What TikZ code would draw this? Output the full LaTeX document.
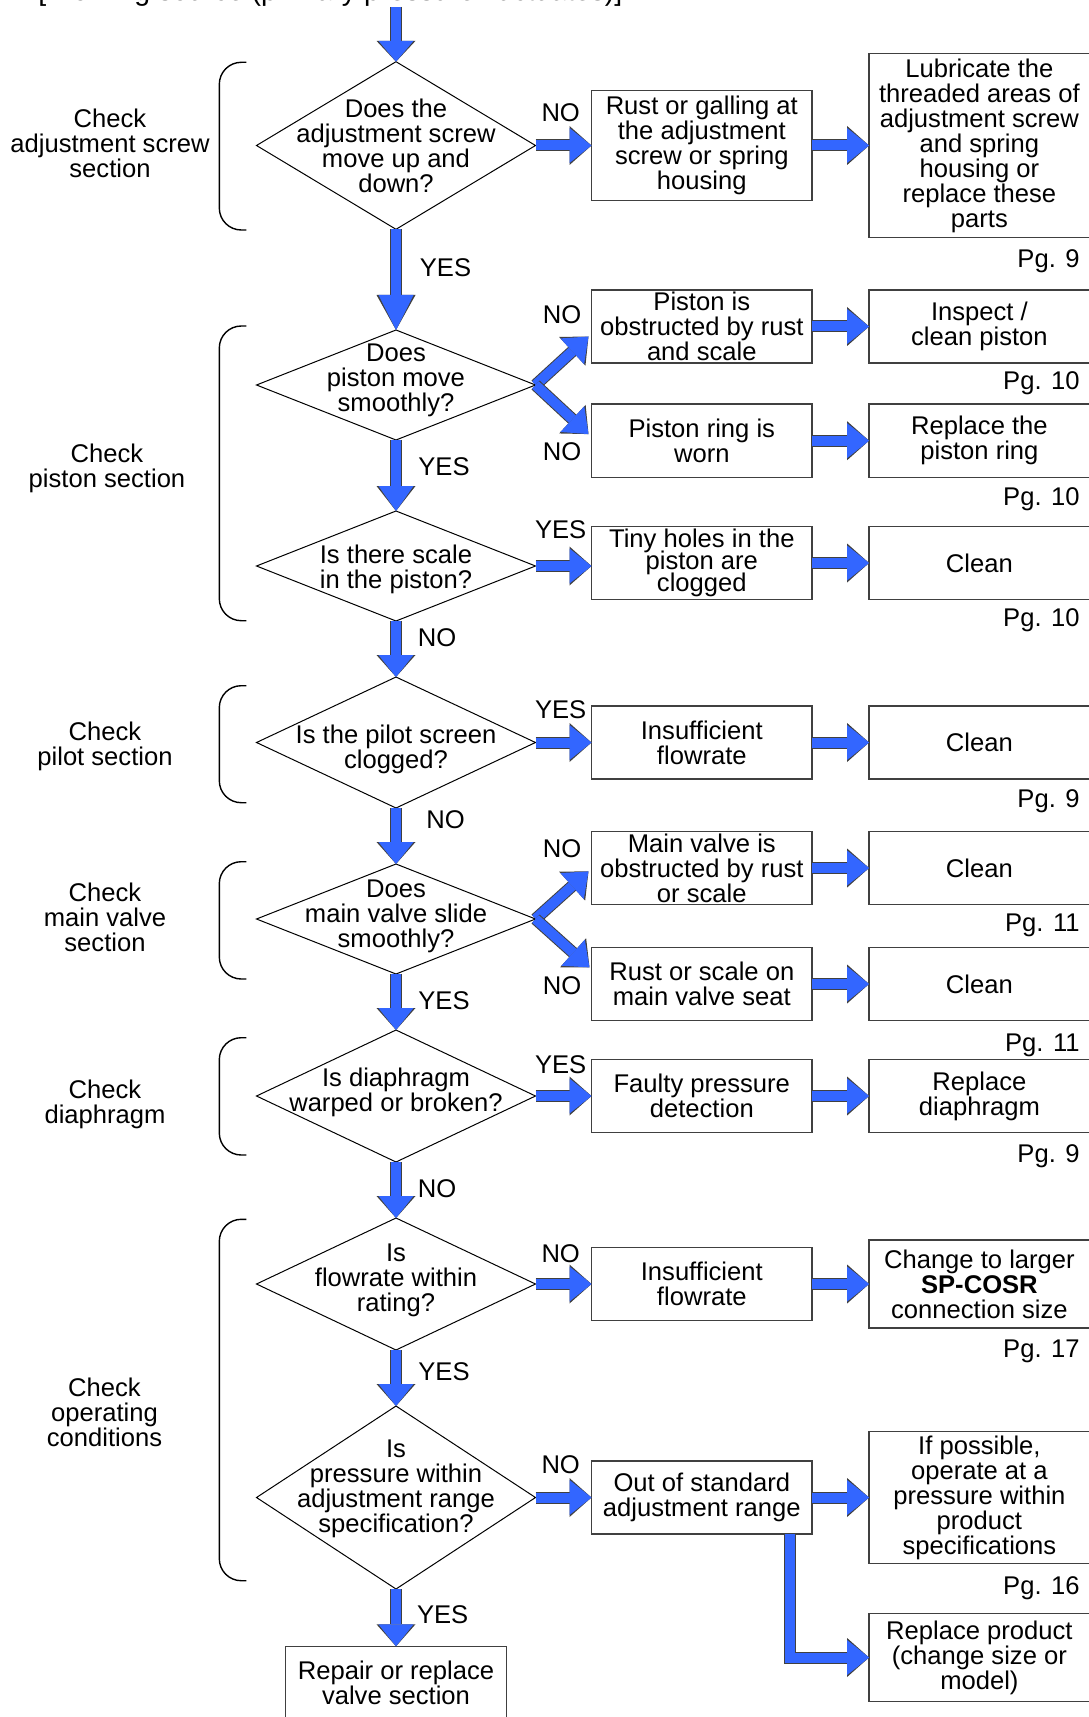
\documentclass[tikz,border=0pt]{standalone}
\usepackage{fontspec}
\setmainfont{Liberation Sans}
\usepackage{tikz}
\usetikzlibrary{shapes.geometric,arrows.meta,positioning}
\definecolor{flowblue}{RGB}{51,102,255}
\lineskiplimit=-20pt
\tikzstyle{txt} = [font=\fontsize{12.8pt}{12.5pt}\selectfont, align=center, inner sep=0pt]
\tikzstyle{decision} = [diamond, draw=black, line width=0.5pt, minimum width=139.5pt, inner sep=0pt, outer sep=0pt]
\tikzstyle{box} = [txt, rectangle, draw=black!75, line width=0.75pt, minimum width=110.3pt, minimum height=36.7pt, outer sep=0pt]
\tikzstyle{bracket} = [draw=black, line width=0.7pt, rounded corners=11pt]
\tikzstyle{pg} = [txt, anchor=base east]
\tikzset{flow/.style={draw=flowblue, line width=5pt, -{Triangle[width=17.5pt,length=#1,line width=0pt]},
  preaction={draw=black!75, line width=6pt, -{Triangle[width=19.5pt,length=#1,line width=0pt]}}},
  flow/.default=11pt}

\begin{document}
\begin{tikzpicture}[x=0.5pt,y=-0.5pt,node distance=28pt]
\useasboundingbox (0,0) rectangle (1088,1717);

\node (head) [txt, font=\fontsize{14.25pt}{14pt}\selectfont, anchor=base west] at (38,1) {[Working source (primary pressure fluctuates)]};
\coordinate (start) at (396,7);

\node (d1) [decision, minimum height=83.8pt] at (396,145.5) {};
\node (d2) [decision, minimum height=55pt, below=50.35pt of d1] {};
\node (d3) [decision, minimum height=55pt, below=35.5pt of d2] {};
\node (d4) [decision, minimum height=65.5pt, below=of d3] {};
\node (d5) [decision, minimum height=55pt, below=of d4] {};
\node (d6) [decision, minimum height=66pt, below=of d5] {};
\node (d7) [decision, minimum height=66pt, below=of d6] {};
\node (d8) [decision, minimum height=91.5pt, below=of d7] {};

\node (d1t) [txt] at (d1) {Does the\\adjustment screw\\move up and\\down?};
\node (d2t) [txt, yshift=2.3pt] at (d2) {Does\\piston move\\smoothly?};
\node (d3t) [txt, yshift=-1.5pt] at (d3) {Is there scale\\in the piston?};
\node (d4t) [txt, yshift=-3.5pt] at (d4) {Is the pilot screen\\clogged?};
\node (d5t) [txt, yshift=1.5pt] at (d5) {Does\\main valve slide\\smoothly?};
\node (d6t) [txt, yshift=1.8pt] at (d6) {Is diaphragm\\warped or broken?};
\node (d7t) [txt, yshift=2pt] at (d7) {Is\\flowrate within\\rating?};
\node (d8t) [txt, yshift=4.5pt] at (d8) {Is\\pressure within\\adjustment range\\specification?};

\node (b1) [box, minimum height=55.15pt, right=28pt of d1] {Rust or galling at\\the adjustment\\screw or spring\\housing};
\node (b2) [box, right=28pt of d2, yshift=29.25pt] {Piston is\\obstructed by rust\\and scale};
\node (b3) [box, right=28pt of d2, yshift=-27.85pt] {Piston ring is\\worn};
\node (b4) [box, right=28pt of d3, yshift=1.5pt, font=\fontsize{12.8pt}{11pt}\selectfont] {Tiny holes in the\\piston are\\clogged};
\node (b5) [box, right=28pt of d4] {Insufficient\\flowrate};
\node (b6) [box, right=28pt of d5, yshift=25.5pt] {Main valve is\\obstructed by rust\\or scale};
\node (b7) [box, right=28pt of d5, yshift=-32.5pt] {Rust or scale on\\main valve seat};
\node (b8) [box, right=28pt of d6] {Faulty pressure\\detection};
\node (b9) [box, right=28pt of d7] {Insufficient\\flowrate};
\node (b10) [box, right=28pt of d8] {Out of standard\\adjustment range};

\node (c1) [box, minimum height=92pt, right=28.5pt of b1] {Lubricate the\\threaded areas of\\adjustment screw\\and spring\\housing or\\replace these\\parts};
\node (c2) [box, right=28.5pt of b2] {Inspect /\\clean piston};
\node (c3) [box, right=28.5pt of b3] {Replace the\\piston ring};
\node (c4) [box, right=28.5pt of b4] {Clean};
\node (c5) [box, right=28.5pt of b5] {Clean};
\node (c6) [box, right=28.5pt of b6] {Clean};
\node (c7) [box, right=28.5pt of b7] {Clean};
\node (c8) [box, right=28.5pt of b8] {Replace\\diaphragm};
\node (c9) [box, minimum height=44pt, right=28.5pt of b9] {Change to larger\\\textbf{SP-COSR}\\connection size};
\node (c10) [box, minimum height=65.85pt, right=28.5pt of b10] {If possible,\\operate at a\\pressure within\\product\\specifications};
\node (c11) [box, minimum height=44.15pt, below=25pt of c10] {Replace product\\(change size or\\model)};
\node (fin) [box, below=28.65pt of d8] {Repair or replace\\valve section};

\node (sec1) [txt] at (110,143) {Check\\adjustment screw\\section};
\node (sec2) [txt] at (107,468) {Check\\piston section};
\node (sec3) [txt] at (105,746) {Check\\pilot section};
\node (sec4) [txt] at (105,917) {Check\\main valve\\section};
\node (sec5) [txt] at (105,1104) {Check\\diaphragm};
\node (sec6) [txt] at (104.5,1412) {Check\\operating\\conditions};

\draw[bracket] (246.4,62.3) -- (219.3,62.3) -- (219.3,230) -- (246.4,230);
\draw[bracket] (246.4,326) -- (219.3,326) -- (219.3,620.7) -- (246.4,620.7);
\draw[bracket] (246.4,685.7) -- (219.3,685.7) -- (219.3,802.7) -- (246.4,802.7);
\draw[bracket] (246.4,861.7) -- (219.3,861.7) -- (219.3,979) -- (246.4,979);
\draw[bracket] (246.4,1037.7) -- (219.3,1037.7) -- (219.3,1155) -- (246.4,1155);
\draw[bracket] (246.4,1219.3) -- (219.3,1219.3) -- (219.3,1580.7) -- (246.4,1580.7);

\draw[flow=10.4pt] (start) -- (d1.north);
\draw[flow=17.5pt] (d1.south) -- (d2.north);
\draw[flow=12.5pt] (d2.south) -- (d3.north);
\draw[flow] (d3.south) -- (d4.north);
\draw[flow] (d4.south) -- (d5.north);
\draw[flow] (d5.south) -- (d6.north);
\draw[flow] (d6.south) -- (d7.north);
\draw[flow] (d7.south) -- (d8.north);
\draw[flow] (d8.south) -- (fin.north);

\draw[flow] (d1.east) -- (d1.east -| b1.west);
\draw[flow] (d2.east) -- ([xshift=-1.5pt,yshift=-5pt]b2.west);
\draw[flow] (d2.east) -- ([xshift=-1.5pt,yshift=3.3pt]b3.west);
\draw[flow] (d3.east) -- (d3.east -| b4.west);
\draw[flow] (d4.east) -- (d4.east -| b5.west);
\draw[flow] (d5.east) -- ([xshift=-1.5pt,yshift=-1.7pt]b6.west);
\draw[flow] (d5.east) -- ([xshift=-1pt,yshift=8.3pt]b7.west);
\draw[flow] (d6.east) -- (d6.east -| b8.west);
\draw[flow] (d7.east) -- (d7.east -| b9.west);
\draw[flow] (d8.east) -- (d8.east -| b10.west);

\draw[flow] (b1.east) -- (b1.east -| c1.west);
\draw[flow] (b2.east) -- (b2.east -| c2.west);
\draw[flow] (b3.east) -- (b3.east -| c3.west);
\draw[flow] (b4.east) -- (b4.east -| c4.west);
\draw[flow] (b5.east) -- (b5.east -| c5.west);
\draw[flow] (b6.east) -- (b6.east -| c6.west);
\draw[flow] (b7.east) -- (b7.east -| c7.west);
\draw[flow] (b8.east) -- (b8.east -| c8.west);
\draw[flow] (b9.east) -- (b9.east -| c9.west);
\draw[flow] (b10.east) -- (b10.east -| c10.west);
\draw[flow] ([xshift=-11.3pt]b10.south east) |- (c11.west);

\node (no1) [txt] at (560.7,112.7) {NO};
\node (yes1) [txt] at (445.5,267.7) {YES};
\node (no2) [txt] at (562,314.3) {NO};
\node (no3) [txt] at (562,451.7) {NO};
\node (yes2) [txt] at (444,466.7) {YES};
\node (yes3) [txt] at (560.7,530) {YES};
\node (no4) [txt] at (437,638) {NO};
\node (yes4) [txt] at (560.7,710) {YES};
\node (no5) [txt] at (445.5,819.3) {NO};
\node (no6) [txt] at (562,848.7) {NO};
\node (no7) [txt] at (562,986) {NO};
\node (yes5) [txt] at (444,1001) {YES};
\node (yes6) [txt] at (560.7,1065) {YES};
\node (no8) [txt] at (437,1188.3) {NO};
\node (no9) [txt] at (560.7,1253.3) {NO};
\node (yes7) [txt] at (444,1371.7) {YES};
\node (no10) [txt] at (560.7,1465) {NO};
\node (yes8) [txt] at (442.7,1615) {YES};

\node (pg1) [pg] at (1080,268) {Pg. 9};
\node (pg2) [pg] at (1080,389.2) {Pg. 10};
\node (pg3) [pg] at (1080,505.9) {Pg. 10};
\node (pg4) [pg] at (1080,626.5) {Pg. 10};
\node (pg5) [pg] at (1080,807.5) {Pg. 9};
\node (pg6) [pg] at (1080,931.9) {Pg. 11};
\node (pg7) [pg] at (1080,1051.5) {Pg. 11};
\node (pg8) [pg] at (1080,1162.5) {Pg. 9};
\node (pg9) [pg] at (1080,1357.5) {Pg. 17};
\node (pg10) [pg] at (1080,1594.9) {Pg. 16};
\end{tikzpicture}
\end{document}
